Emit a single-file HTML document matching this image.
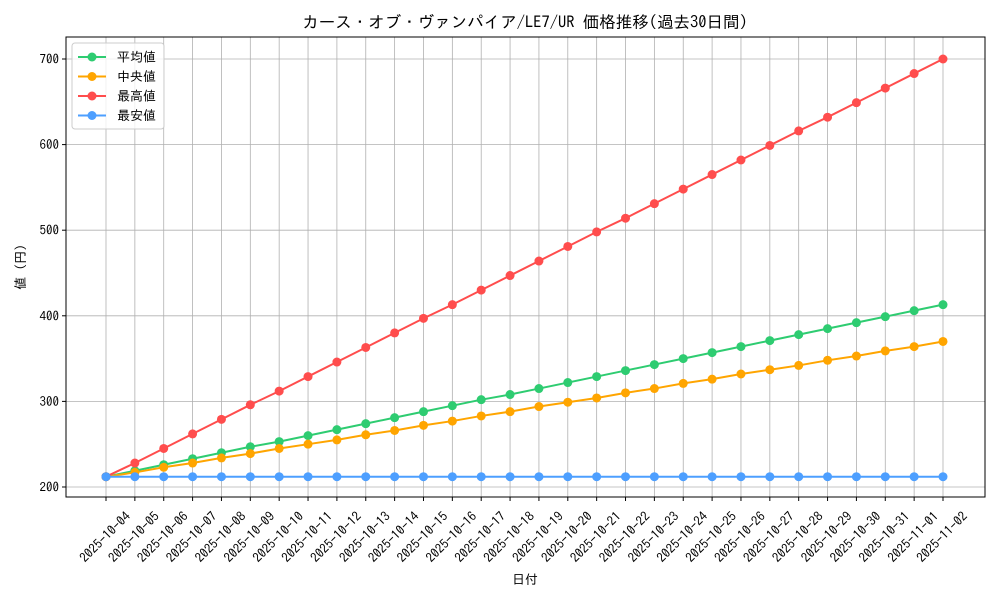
<!DOCTYPE html>
<html><head><meta charset="utf-8"><style>
body{margin:0;background:#fff;}
svg{font-family:"IPAGothic","Liberation Sans","Noto Sans CJK JP",sans-serif;}
</style></head><body>
<svg id="chart" width="1000" height="600"></svg>
<script>
const dates=["2025-10-04","2025-10-05","2025-10-06","2025-10-07","2025-10-08","2025-10-09","2025-10-10","2025-10-11","2025-10-12","2025-10-13","2025-10-14","2025-10-15","2025-10-16","2025-10-17","2025-10-18","2025-10-19","2025-10-20","2025-10-21","2025-10-22","2025-10-23","2025-10-24","2025-10-25","2025-10-26","2025-10-27","2025-10-28","2025-10-29","2025-10-30","2025-10-31","2025-11-01","2025-11-02"];
const meanVals=[212,219,226,233,240,247,253,260,267,274,281,288,295,302,308,315,322,329,336,343,350,357,364,371,378,385,392,399,406,413];
const medianVals=[212,217,223,228,234,239,245,250,255,261,266,272,277,283,288,294,299,304,310,315,321,326,332,337,342,348,353,359,364,370];
const maxVals=[212,228,245,262,279,296,312,329,346,363,380,397,413,430,447,464,481,498,514,531,548,565,582,599,616,632,649,666,683,700];
const minVals=[212,212,212,212,212,212,212,212,212,212,212,212,212,212,212,212,212,212,212,212,212,212,212,212,212,212,212,212,212,212];
const yTicks=[200,300,400,500,600,700];
const seriesNames=["平均値","中央値","最高値","最安値"];
const seriesColors=["#2ecc71","#ffa500","#ff4d4d","#4d9fff"];

const svg=document.getElementById('chart');
const NS='http://www.w3.org/2000/svg';
const L=66,R=985,T=37,B=497;
const yMin=188.3,yMax=725.7;
const x=i=>106+i*(943-106)/(dates.length-1);
const y=v=>B-(v-yMin)/(yMax-yMin)*(B-T);
function mk(tag,attrs,parent){const e=document.createElementNS(NS,tag);for(const k in attrs)e.setAttribute(k,attrs[k]);(parent||svg).appendChild(e);return e;}

const title=mk('text',{x:525,y:28,'text-anchor':'middle','font-size':16.5});
title.textContent='カース・オブ・ヴァンパイア/LE7/UR 価格推移(過去30日間)';



const grid=mk('g',{});


dates.forEach((d,i)=>{mk('line',{x1:x(i),x2:x(i),y1:T,y2:B,stroke:'#b0b0b0','stroke-width':0.8},grid);});
yTicks.forEach(v=>{mk('line',{x1:L,x2:R,y1:y(v),y2:y(v),stroke:'#b0b0b0','stroke-width':0.8},grid);});

const frame=mk('rect',{x:L,y:T,width:R-L,height:B-T,fill:'none',stroke:'#000','stroke-width':1});



const xax=mk('g',{'font-size':13});


dates.forEach((d,i)=>{
 mk('line',{x1:x(i),x2:x(i),y1:B,y2:B+4,stroke:'#000'},xax);
 const cx=x(i)-1, cy=B+40;
 const t=mk('text',{x:cx,y:cy,'text-anchor':'middle','dominant-baseline':'central',transform:`rotate(-45 ${cx} ${cy})`},xax);
 t.textContent=d;
 
 
});
const yax=mk('g',{'font-size':13});


yTicks.forEach(v=>{
 mk('line',{x1:L-4,x2:L,y1:y(v),y2:y(v),stroke:'#000'},yax);
 const t=mk('text',{x:L-7,y:y(v)+4.5,'text-anchor':'end'},yax);
 t.textContent=v;
 
 
});
const xt=mk('text',{x:525,y:584,'text-anchor':'middle','font-size':13});
xt.textContent='日付';


const yt=mk('text',{x:25,y:267,'text-anchor':'middle','font-size':13,transform:'rotate(-90 25 267)'});
yt.textContent='値 (円)';



const allVals=[meanVals,medianVals,maxVals,minVals];
const seriesKeys=["mean","median","max","min"];
allVals.forEach((vals,s)=>{
 const g=mk('g',{});
 
 
 mk('polyline',{points:vals.map((v,i)=>x(i)+','+y(v)).join(' '),fill:'none',stroke:seriesColors[s],'stroke-width':2},g);
 vals.forEach((v,i)=>{
  const c=mk('circle',{cx:x(i),cy:y(v),r:4.5,fill:seriesColors[s]},g);
  
  
 });
});

const lg=mk('g',{'font-size':13});


mk('rect',{x:72,y:43,width:92,height:86,rx:3,fill:'#fff','fill-opacity':0.8,stroke:'#ccc'},lg);
seriesNames.forEach((n,s)=>{
 const yy=57+s*19.5;
 const e=mk('g',{},lg);
 
 
 mk('line',{x1:78,x2:106,y1:yy,y2:yy,stroke:seriesColors[s],'stroke-width':2},e);
 mk('circle',{cx:92,cy:yy,r:4.5,fill:seriesColors[s]},e);
 const t=mk('text',{x:117,y:yy+4.5},e);t.textContent=n;
});
</script>
</body></html>
